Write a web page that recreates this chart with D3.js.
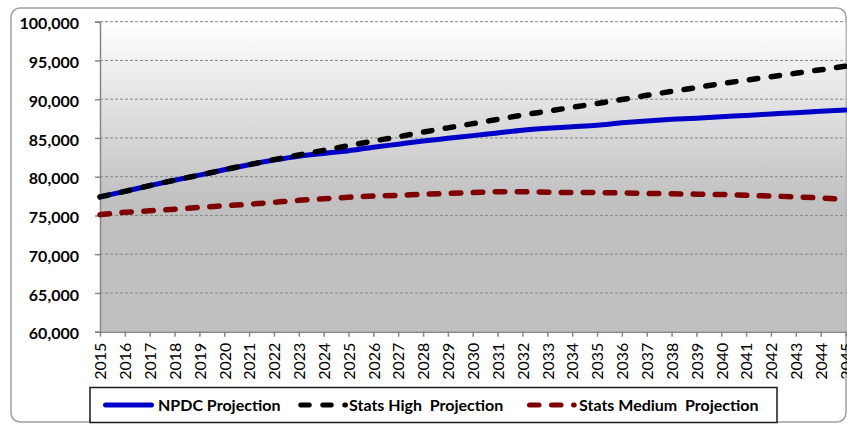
<!DOCTYPE html>
<html>
<head>
<meta charset="utf-8">
<script src="https://cdn.jsdelivr.net/npm/d3@7"></script>
<style>
  html, body { margin: 0; padding: 0; background: #fff; }
  svg { display: block; }
</style>
</head>
<body>
<svg id="chart" width="847" height="426"></svg>
<script>
// Population projections, 2015–2045
const years = [2015, 2016, 2017, 2018, 2019, 2020, 2021, 2022, 2023, 2024, 2025,
               2026, 2027, 2028, 2029, 2030, 2031, 2032, 2033, 2034, 2035,
               2036, 2037, 2038, 2039, 2040, 2041, 2042, 2043, 2044, 2045];

const npdcProjection = [77400, 78100, 78850, 79550, 80200, 80900, 81550, 82150, 82650, 83000, 83350,
                        83800, 84200, 84600, 84950, 85300, 85650, 86000, 86250, 86450, 86650,
                        86950, 87200, 87400, 87550, 87750, 87900, 88100, 88250, 88450, 88600];

const statsHighProjection = [77400, 78100, 78850, 79550, 80200, 80900, 81550, 82200, 82800, 83400, 84000,
                             84600, 85150, 85750, 86300, 86850, 87400, 87950, 88450, 88950, 89450,
                             89950, 90500, 91000, 91500, 92000, 92450, 92900, 93350, 93800, 94250];

const statsMediumProjection = [75100, 75400, 75600, 75800, 76050, 76250, 76450, 76700, 76950, 77150, 77350,
                               77500, 77600, 77750, 77850, 77950, 78050, 78050, 78000, 77950, 77950,
                               77900, 77850, 77800, 77750, 77700, 77600, 77500, 77400, 77250, 77050];

const yTickValues = [60000, 65000, 70000, 75000, 80000, 85000, 90000, 95000, 100000];

const seriesNames = ["NPDC Projection", "Stats High  Projection", "Stats Medium  Projection"];
const seriesColors = ["#0000c8", "#000000", "#7f0000"];

const svg = d3.select("#chart");
const FONT = "Lato, 'Open Sans', 'DejaVu Sans', sans-serif";

// Plot area bounds
const plotLeft = 100, plotRight = 845.5, plotTop = 21.7, plotBottom = 331.7;

const x = d3.scalePoint().domain(years).range([plotLeft, plotRight]);
const y = d3.scaleLinear().domain([60000, 100000]).range([plotBottom, plotTop]);

// Gradient fill of the plot area
const defs = svg.append("defs");
const grad = defs.append("linearGradient")
  .attr("id", "plotFill").attr("x1", 0).attr("y1", 0).attr("x2", 0).attr("y2", 1);
grad.append("stop").attr("offset", "0%").attr("stop-color", "#ffffff");
grad.append("stop").attr("offset", "58%").attr("stop-color", "#c0c0c0");
grad.append("stop").attr("offset", "100%").attr("stop-color", "#c0c0c0");

// Outer chart frame
svg.append("rect")
  .attr("x", 11).attr("y", 8).attr("width", 835).attr("height", 414)
  .attr("rx", 9).attr("ry", 9)
  .attr("fill", "#ffffff").attr("stroke", "#a0a0a0").attr("stroke-width", 1.5);

// Plot background
svg.append("rect")
  .attr("x", plotLeft).attr("y", plotTop)
  .attr("width", plotRight - plotLeft).attr("height", plotBottom - plotTop)
  .attr("fill", "url(#plotFill)");

// Horizontal dashed gridlines
svg.append("g")
  .selectAll("line")
  .data(yTickValues.filter(d => d !== 60000))
  .join("line")
  .attr("x1", plotLeft).attr("x2", plotRight)
  .attr("y1", d => y(d)).attr("y2", d => y(d))
  .attr("stroke", "#868686").attr("stroke-width", 1)
  .attr("stroke-dasharray", "3,2");

// Y axis
const yAxis = svg.append("g")
  .attr("transform", `translate(${plotLeft},0)`)
  .call(d3.axisLeft(y).tickValues(yTickValues).tickSize(5).tickPadding(16)
        .tickFormat(d3.format(",")));
yAxis.select(".domain").attr("stroke", "#868686").attr("stroke-width", 1.5);
yAxis.selectAll(".tick line").attr("stroke", "#868686").attr("stroke-width", 1.5);
yAxis.selectAll(".tick text")
  .attr("font-family", FONT).attr("font-size", 16).attr("font-weight", "bold")
  .attr("fill", "#000").attr("dy", "0.45em");

// X axis
const xAxis = svg.append("g")
  .attr("transform", `translate(0,${plotBottom})`)
  .call(d3.axisBottom(x).tickSize(5).tickSizeOuter(0));
xAxis.select(".domain").attr("stroke", "#868686").attr("stroke-width", 1.5);
xAxis.selectAll(".tick line").attr("stroke", "#868686").attr("stroke-width", 1.5);
xAxis.selectAll(".tick text")
  .attr("font-family", FONT).attr("font-size", 16).attr("fill", "#000")
  .attr("transform", "rotate(-90)")
  .attr("text-anchor", "end")
  .attr("x", -11).attr("y", 0).attr("dy", "0.36em");

// Series lines
const line = d3.line()
  .x((d, i) => x(years[i]))
  .y(d => y(d))
  .curve(d3.curveMonotoneX);

const series = [
  { values: npdcProjection, color: seriesColors[0], dash: null, width: 5 },
  { values: statsHighProjection, color: seriesColors[1], dash: "8.5,13.5", width: 5.5 },
  { values: statsMediumProjection, color: seriesColors[2], dash: "9.5,12.5", width: 5.5 }
];

svg.append("g")
  .selectAll("path")
  .data(series)
  .join("path")
  .attr("d", d => line(d.values))
  .attr("fill", "none")
  .attr("stroke", d => d.color)
  .attr("stroke-width", d => d.width)
  .attr("stroke-linecap", "round")
  .attr("stroke-linejoin", "round")
  .attr("stroke-dasharray", d => d.dash);

// Legend
const legend = svg.append("g");
legend.append("rect")
  .attr("x", 90).attr("y", 387.5).attr("width", 687).attr("height", 35)
  .attr("fill", "#ffffff").attr("stroke", "#1a1a1a").attr("stroke-width", 1.5);

const legendItems = [
  { name: seriesNames[0], color: seriesColors[0], dash: null, width: 5, x1: 105.5, x2: 151.5, tx: 158 },
  { name: seriesNames[1], color: seriesColors[1], dash: "8.5,13.5", width: 5, x1: 300.75, x2: 345.5, tx: 349 },
  { name: seriesNames[2], color: seriesColors[2], dash: "9.5,12.5", width: 5, x1: 529.5, x2: 574.2, tx: 579 }
];

legendItems.forEach(item => {
  legend.append("line")
    .attr("x1", item.x1).attr("x2", item.x2)
    .attr("y1", 405).attr("y2", 405)
    .attr("stroke", item.color).attr("stroke-width", item.width)
    .attr("stroke-linecap", "round")
    .attr("stroke-dasharray", item.dash);
  legend.append("text")
    .attr("x", item.tx).attr("y", 410.7)
    .attr("font-family", FONT).attr("font-size", 16).attr("font-weight", "bold")
    .attr("fill", "#000")
    .style("white-space", "pre")
    .text(item.name);
});
</script>
</body>
</html>
